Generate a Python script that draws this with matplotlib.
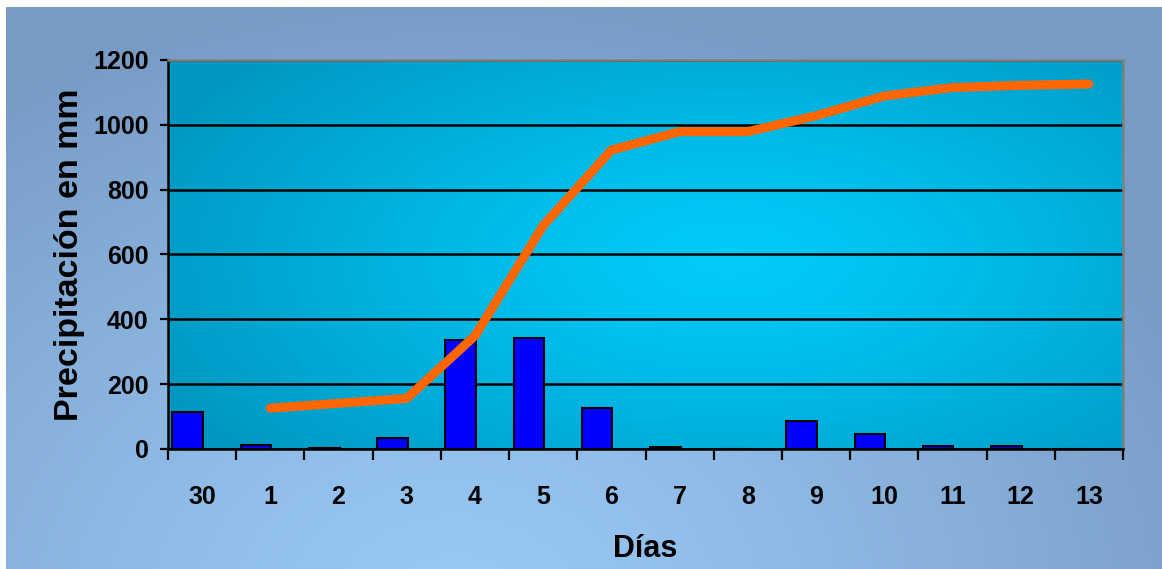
import numpy as np
import matplotlib
matplotlib.use('Agg')
from matplotlib import pyplot as plt

plt.rcParams['font.family'] = ['Liberation Sans', 'DejaVu Sans']
plt.rcParams['font.weight'] = 'bold'

dias = ['30', '1', '2', '3', '4', '5', '6', '7', '8', '9', '10', '11', '12', '13']
lluvia_diaria = [115, 12, 4, 33, 337, 343, 125, 5, 0, 86, 46, 9, 10, 0]
# acumulado, empieza en el dia 1
acumulado = [126, 141, 156, 349, 689, 922, 979, 979, 1028, 1089, 1115, 1122, 1126]

W, H = 1162, 569
fig = plt.figure(figsize=(W / 100, H / 100), dpi=100, facecolor='white')

# fondo exterior con degradado radial
bg = fig.add_axes([6 / W, 0, 1 - 6 / W, 1 - 7 / H])
bg.set_axis_off()
yy, xx = np.mgrid[0:562, 0:1156]
t = np.sqrt(((xx - 450) / 820.0) ** 2 + ((yy - 600) / 620.0) ** 2)
t = np.clip(t, 0, 1) ** 1.3
c_in = np.array([0x98, 0xc8, 0xf4]) / 255
c_out = np.array([0x78, 0x9b, 0xc4]) / 255
img = c_in[None, None, :] * (1 - t[..., None]) + c_out[None, None, :] * t[..., None]
bg.imshow(img, aspect='auto', interpolation='bilinear')

ax = fig.add_axes([168 / W, (H - 449) / H, 955 / W, 389 / H])
x = np.arange(len(dias))

# degradado del area de trazado
yy, xx = np.mgrid[0:389, 0:955]
t = np.sqrt(((xx - 560) / 620.0) ** 2 + ((yy - 200) / 300.0) ** 2)
t = np.clip(t, 0, 1) ** 1.2
p_in = np.array([0x00, 0xcc, 0xfc]) / 255
p_out = np.array([0x00, 0x98, 0xc2]) / 255
pimg = p_in[None, None, :] * (1 - t[..., None]) + p_out[None, None, :] * t[..., None]
ax.imshow(pimg, extent=[-0.5, 13.5, 0, 1200], aspect='auto', zorder=0,
          interpolation='bilinear')

ax.bar(x - 0.21, lluvia_diaria, width=0.45, color='#0000ff', edgecolor='black',
       linewidth=1.5, zorder=2)
ax.plot(x[1:], acumulado, color='#ff6600', linewidth=6.5, solid_capstyle='round',
        solid_joinstyle='round', zorder=3)

ax.set_xlim(-0.5, 13.5)
ax.set_ylim(0, 1200)
ax.set_yticks(range(0, 1201, 200))
ax.set_xticks(x)
ax.set_xticklabels(dias)
ax.set_xticks(np.arange(-0.5, 14, 1), minor=True)
ax.tick_params(axis='x', which='major', length=0, pad=26, labelsize=18)
ax.tick_params(axis='x', which='minor', length=8, width=1.6, color='black')
ax.tick_params(axis='y', length=6, width=1.6, pad=8, labelsize=18)

ax.set_axisbelow(True)
ax.yaxis.grid(True, color='black', linewidth=1.8)

for s in ['left', 'bottom']:
    ax.spines[s].set_color('black')
    ax.spines[s].set_linewidth(1.8)
for s in ['top', 'right']:
    ax.spines[s].set_color('#808080')
    ax.spines[s].set_linewidth(1.8)

ax.set_ylabel('Precipitación en mm', fontsize=24.5, fontweight='bold', labelpad=6)
ax.set_xlabel('Días', fontsize=22, fontweight='bold', labelpad=18)

fig.savefig('out.png', dpi=100, facecolor='white')
